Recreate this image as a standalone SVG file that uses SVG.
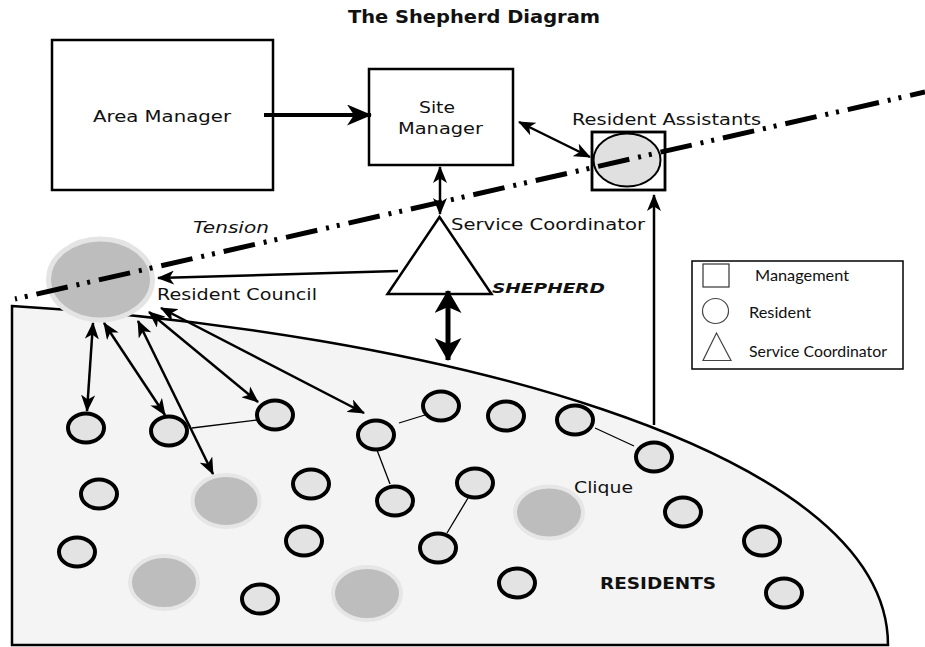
<svg xmlns="http://www.w3.org/2000/svg" width="925" height="647" viewBox="0 0 925 647">
<style>
.lbl{font-family:"DejaVu Sans",Verdana,sans-serif;font-size:16.5px;fill:#111}
.box{fill:#fff;stroke:#000;stroke-width:2.5}
.res{fill:#e3e3e3;stroke:#000;stroke-width:4}
.clq{fill:#bdbdbd;stroke:#e6e6e6;stroke-width:4}
.link{stroke:#000;stroke-width:1.3;fill:none}
.arr{stroke:#000;stroke-width:2.5;fill:none}
.leg{font-family:Lato,"Liberation Sans",sans-serif;font-size:15px;fill:#111}
</style>
<defs>
<marker id="a" markerUnits="userSpaceOnUse" viewBox="0 0 17 14" markerWidth="17" markerHeight="14" refX="16" refY="7" orient="auto-start-reverse"><path d="M0,0 L17,7 L0,14 L4.5,7 Z" fill="#000"/></marker>
<marker id="b" markerUnits="userSpaceOnUse" viewBox="0 0 25 21" markerWidth="25" markerHeight="21" refX="24" refY="10.5" orient="auto-start-reverse"><path d="M0,0 L25,10.5 L0,21 L7,10.5 Z" fill="#000"/></marker>
<marker id="c" markerUnits="userSpaceOnUse" viewBox="0 0 23 27" markerWidth="23" markerHeight="27" refX="22" refY="13.5" orient="auto-start-reverse"><path d="M0,0 L23,13.5 L0,27 L6,13.5 Z" fill="#000"/></marker>
</defs>
<rect width="925" height="647" fill="#fff"/>

<g id="residents-area">
<path d="M12,306 C420,330 888,445 888,645 L12,645 Z" fill="#f3f4f3" stroke="#000" stroke-width="2.5"/>
</g>

<g id="cliques">
<ellipse class="clq" cx="226" cy="501" rx="33.5" ry="26"/>
<ellipse class="clq" cx="549" cy="512.5" rx="34" ry="26"/>
<ellipse class="clq" cx="164" cy="582.5" rx="34" ry="26.5"/>
<ellipse class="clq" cx="367" cy="593.5" rx="34" ry="26.5"/>
</g>

<g id="links">
<line class="link" x1="192" y1="428" x2="257" y2="420"/>
<line class="link" x1="399" y1="423" x2="425" y2="415"/>
<line class="link" x1="377" y1="450" x2="390" y2="484"/>
<line class="link" x1="468" y1="498" x2="447" y2="533"/>
<line class="link" x1="595" y1="428" x2="634" y2="446"/>
</g>

<g id="resident-circles">
<ellipse class="res" cx="86" cy="428" rx="18" ry="14.5"/>
<ellipse class="res" cx="169" cy="431" rx="18" ry="14.5"/>
<ellipse class="res" cx="275" cy="415" rx="18" ry="14.5"/>
<ellipse class="res" cx="376" cy="435" rx="18" ry="14.5"/>
<ellipse class="res" cx="441" cy="406" rx="18" ry="14.5"/>
<ellipse class="res" cx="506" cy="416" rx="18" ry="14.5"/>
<ellipse class="res" cx="575" cy="420" rx="18" ry="14.5"/>
<ellipse class="res" cx="654" cy="457" rx="18" ry="14.5"/>
<ellipse class="res" cx="99" cy="494" rx="18" ry="14.5"/>
<ellipse class="res" cx="311" cy="484" rx="18" ry="14.5"/>
<ellipse class="res" cx="395" cy="501" rx="18" ry="14.5"/>
<ellipse class="res" cx="475" cy="483" rx="18" ry="14.5"/>
<ellipse class="res" cx="683" cy="512" rx="18" ry="14.5"/>
<ellipse class="res" cx="77" cy="552" rx="18" ry="14.5"/>
<ellipse class="res" cx="304" cy="541" rx="18" ry="14.5"/>
<ellipse class="res" cx="438" cy="548" rx="18" ry="14.5"/>
<ellipse class="res" cx="762" cy="541" rx="18" ry="14.5"/>
<ellipse class="res" cx="260" cy="599" rx="18" ry="14.5"/>
<ellipse class="res" cx="517" cy="583" rx="18" ry="14.5"/>
<ellipse class="res" cx="784" cy="593" rx="18" ry="14.5"/>
</g>

<g id="resident-council">
<ellipse cx="100.5" cy="279.5" rx="52" ry="40.5" fill="#bdbdbd" stroke="#e4e4e4" stroke-width="5"/>
</g>

<g id="resident-assistants">
<rect x="592" y="132" width="73" height="58" fill="#fff" stroke="#000" stroke-width="2.8"/>
<ellipse cx="627" cy="160" rx="33.5" ry="26.5" fill="#e0e0e0" stroke="#000" stroke-width="2"/>
</g>

<g id="tension-line">
<line x1="15" y1="299" x2="925" y2="92" stroke="#000" stroke-width="5" stroke-dasharray="32 9 3 8 3 9" stroke-dashoffset="42"/>
</g>

<g id="area-manager">
<rect class="box" x="52" y="40" width="221" height="150"/>
</g>
<g id="site-manager">
<rect class="box" x="369" y="69" width="144" height="96"/>
</g>
<g id="service-coordinator">
<polygon points="439.5,217 387.5,294 491.5,294" fill="#fff" stroke="#000" stroke-width="2.5"/>
</g>

<g id="legend">
<rect x="692" y="261" width="211" height="108" fill="#fff" stroke="#000" stroke-width="1.5"/>
<rect x="703" y="264" width="26" height="23" fill="#fff" stroke="#333" stroke-width="1.2"/>
<ellipse cx="715.5" cy="311" rx="13" ry="12.5" fill="#fff" stroke="#444" stroke-width="1.2"/>
<polygon points="716.5,333 703,360.5 731,360.5" fill="#fff" stroke="#444" stroke-width="1.2"/>
<text class="leg" x="755" y="281" textLength="94" lengthAdjust="spacingAndGlyphs">Management</text>
<text class="leg" x="749" y="318" textLength="62" lengthAdjust="spacingAndGlyphs">Resident</text>
<text class="leg" x="749" y="357" textLength="138" lengthAdjust="spacingAndGlyphs">Service Coordinator</text>
</g>

<g id="connectors">
<line x1="264" y1="115" x2="371" y2="115" stroke="#000" stroke-width="4" marker-end="url(#b)"/>
<line class="arr" x1="519" y1="122" x2="590" y2="157" stroke-width="3" marker-start="url(#a)" marker-end="url(#a)"/>
<line class="arr" x1="440" y1="167" x2="440" y2="214" marker-start="url(#a)" marker-end="url(#a)"/>
<line x1="448" y1="291" x2="448" y2="360" stroke="#000" stroke-width="5" marker-start="url(#c)" marker-end="url(#c)"/>
<line class="arr" x1="398" y1="271" x2="158" y2="278" marker-end="url(#a)"/>
<line class="arr" x1="654" y1="425" x2="654" y2="195" marker-end="url(#a)"/>
<line class="arr" x1="93" y1="323" x2="87" y2="411" marker-start="url(#a)" marker-end="url(#a)"/>
<line class="arr" x1="104" y1="323" x2="165" y2="415" marker-start="url(#a)" marker-end="url(#a)"/>
<line class="arr" x1="138" y1="321" x2="213" y2="474" marker-start="url(#a)" marker-end="url(#a)"/>
<line class="arr" x1="149" y1="312" x2="258" y2="402" marker-start="url(#a)" marker-end="url(#a)"/>
<line class="arr" x1="161" y1="308" x2="364" y2="413" marker-start="url(#a)" marker-end="url(#a)"/>
</g>

<g id="labels">
<text x="348" y="23" font-family="'DejaVu Sans',Verdana,sans-serif" font-weight="bold" font-size="17" fill="#111" textLength="252" lengthAdjust="spacingAndGlyphs">The Shepherd Diagram</text>
<text class="lbl" x="93" y="122" textLength="138" lengthAdjust="spacingAndGlyphs">Area Manager</text>
<text class="lbl" x="419" y="113" textLength="36" lengthAdjust="spacingAndGlyphs">Site</text>
<text class="lbl" x="398" y="134" textLength="85" lengthAdjust="spacingAndGlyphs">Manager</text>
<text class="lbl" x="572" y="125" textLength="189" lengthAdjust="spacingAndGlyphs">Resident Assistants</text>
<text class="lbl" x="193" y="233" font-style="italic" textLength="76" lengthAdjust="spacingAndGlyphs">Tension</text>
<text class="lbl" x="451" y="230" textLength="194" lengthAdjust="spacingAndGlyphs">Service Coordinator</text>
<text x="492" y="293" font-family="'DejaVu Sans',Verdana,sans-serif" font-weight="bold" font-style="italic" font-size="14.5" fill="#111" textLength="113" lengthAdjust="spacingAndGlyphs">SHEPHERD</text>
<text class="lbl" x="157" y="300" textLength="160" lengthAdjust="spacingAndGlyphs">Resident Council</text>
<text class="lbl" x="574" y="493" textLength="59" lengthAdjust="spacingAndGlyphs">Clique</text>
<text x="600" y="589" font-family="'DejaVu Sans',Verdana,sans-serif" font-weight="bold" font-size="16.5" fill="#111" textLength="116" lengthAdjust="spacingAndGlyphs">RESIDENTS</text>
</g>
</svg>
